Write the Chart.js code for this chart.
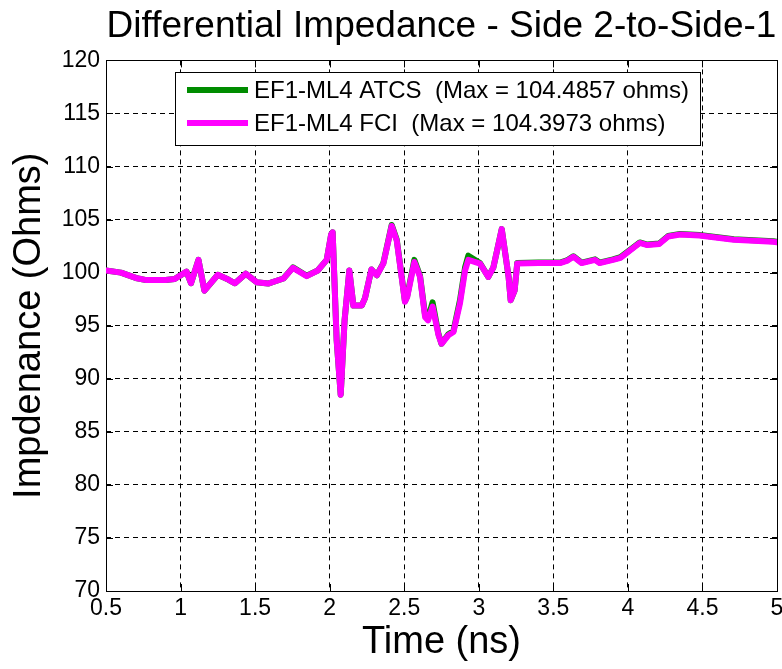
<!DOCTYPE html>
<html lang="en">
<head>
<meta charset="UTF-8">
<title>Differential Impedance - Side 2-to-Side-1</title>
<script src="https://cdn.jsdelivr.net/npm/chart.js"></script>
<style>
  html, body { margin: 0; padding: 0; background: #fff; }
  #wrap { width: 782px; height: 669px; }
</style>
</head>
<body>
<div id="wrap"><canvas id="zChart" width="782" height="669"></canvas></div>
<script>
// time axis (ns) and impedance readings (ohms)
var timeNs = [0.5, 0.6, 0.7, 0.77, 0.9, 0.96, 1.04, 1.07, 1.12, 1.16, 1.25, 1.32, 1.365, 1.437, 1.51, 1.587,
  1.69, 1.754, 1.846, 1.92, 1.98, 2.01, 2.02, 2.047, 2.074, 2.10, 2.132, 2.159, 2.215, 2.237, 2.28, 2.316,
  2.36, 2.416, 2.45, 2.505, 2.52, 2.568, 2.606, 2.64, 2.66, 2.69, 2.73, 2.75, 2.796, 2.83, 2.874, 2.908,
  2.93, 3.008, 3.064, 3.098, 3.154, 3.2, 3.214, 3.24, 3.258, 3.4, 3.545, 3.59, 3.634, 3.69, 3.78, 3.81,
  3.9, 3.95, 4.08, 4.13, 4.21, 4.27, 4.35, 4.48, 4.71, 4.975, 5.0];

var atcs = [100.2, 100.0, 99.5, 99.3, 99.3, 99.4, 100.1, 99.0, 101.2, 98.3, 99.8, 99.35, 99.0, 99.9, 99.1, 98.97,
  99.45, 100.5, 99.7, 100.2, 101.2, 103.6, 103.8, 93.6, 88.5, 95.5, 100.2, 96.9, 96.9, 97.6, 100.3, 99.75,
  100.9, 104.49, 103.1, 97.3, 97.8, 101.2, 99.7, 96.0, 95.7, 97.2, 94.2, 93.3, 94.2, 94.5, 97.4, 100.5,
  101.6, 100.9, 99.6, 100.5, 104.1, 99.6, 97.4, 98.3, 100.9, 100.95, 100.95, 101.15, 101.55, 100.95, 101.25, 100.95,
  101.25, 101.45, 102.85, 102.65, 102.75, 103.45, 103.65, 103.55, 103.15, 102.95, 102.9];

var fci = [100.2, 100.0, 99.5, 99.3, 99.3, 99.4, 100.1, 99.0, 101.2, 98.3, 99.8, 99.35, 99.0, 99.9, 99.1, 98.97,
  99.45, 100.45, 99.67, 100.2, 101.2, 103.6, 103.8, 93.6, 88.5, 95.5, 100.2, 96.9, 96.9, 97.6, 100.3, 99.75,
  100.85, 104.4, 103.0, 97.25, 97.7, 101.0, 99.6, 95.8, 95.5, 96.8, 94.1, 93.3, 94.1, 94.4, 97.1, 100.2,
  101.2, 100.85, 99.6, 100.5, 104.1, 99.6, 97.4, 98.3, 100.85, 100.9, 100.9, 101.1, 101.5, 100.9, 101.2, 100.9,
  101.2, 101.4, 102.8, 102.6, 102.7, 103.4, 103.6, 103.5, 103.1, 102.9, 102.85];

var seriesNames = ['EF1-ML4 ATCS  (Max = 104.4857 ohms)', 'EF1-ML4 FCI  (Max = 104.3973 ohms)'];

var FONT = 'Liberation Sans, Arial, sans-serif';

function pts(vals) {
  return vals.map(function (v, i) { return { x: timeNs[i], y: v }; });
}

// box around the plot + matlab style inward ticks
var frame = {
  id: 'frame',
  beforeDatasetsDraw: function (chart) {
    var a = chart.chartArea, c = chart.ctx;
    var xs = chart.scales.x, ys = chart.scales.y;
    c.save();
    c.strokeStyle = '#000';
    c.lineWidth = 1;
    c.beginPath();
    xs.ticks.forEach(function (t) {
      var px = Math.round(xs.getPixelForValue(t.value)) + 0.5;
      c.moveTo(px, a.bottom); c.lineTo(px, a.bottom - 7);
      c.moveTo(px, a.top); c.lineTo(px, a.top + 7);
    });
    ys.ticks.forEach(function (t) {
      var py = Math.round(ys.getPixelForValue(t.value)) + 0.5;
      c.moveTo(a.left, py); c.lineTo(a.left + 7, py);
      c.moveTo(a.right, py); c.lineTo(a.right - 7, py);
    });
    c.stroke();
    c.strokeRect(Math.round(a.left) + 0.5, Math.round(a.top) + 0.5,
      Math.round(a.right - a.left), Math.round(a.bottom - a.top));
    c.restore();
  }
};

// legend drawn inside the axes, like matlab 'north'
var boxLegend = {
  id: 'boxLegend',
  afterDraw: function (chart) {
    var c = chart.ctx;
    var sets = chart.data.datasets.slice().reverse();
    var x0 = 175, y0 = 72, w = 525, h = 73;
    c.save();
    c.fillStyle = '#fff';
    c.fillRect(x0, y0, w, h);
    c.strokeStyle = '#000';
    c.lineWidth = 1;
    c.strokeRect(x0 + 0.5, y0 + 0.5, w, h);
    c.font = '24px ' + FONT;
    c.textBaseline = 'middle';
    c.fillStyle = '#000';
    sets.forEach(function (ds, i) {
      var y = y0 + 18 + i * 33;
      c.strokeStyle = ds.borderColor;
      c.lineWidth = 6;
      c.beginPath();
      c.moveTo(187, y); c.lineTo(248, y);
      c.stroke();
      c.fillText(ds.label, 254, y + 1);
    });
    c.restore();
  }
};

var ctx = document.getElementById('zChart').getContext('2d');
var zChart = new Chart(ctx, {
  type: 'line',
  data: {
    datasets: [{
      label: seriesNames[1],
      data: pts(fci),
      borderColor: '#ff00ff',
      borderWidth: 6,
      borderJoinStyle: 'round',
      borderCapStyle: 'round',
      pointRadius: 0,
      tension: 0
    }, {
      label: seriesNames[0],
      data: pts(atcs),
      borderColor: '#008c00',
      borderWidth: 6,
      borderJoinStyle: 'round',
      borderCapStyle: 'round',
      pointRadius: 0,
      tension: 0
    }]
  },
  options: {
    responsive: false,
    animation: false,
    layout: { padding: { top: 0, right: 5, left: 0, bottom: 0 } },
    plugins: {
      legend: { display: false },
      tooltip: { enabled: false },
      title: {
        display: true,
        text: 'Differential Impedance - Side 2-to-Side-1',
        fullSize: false,
        color: '#000',
        font: { family: FONT, size: 37, weight: 'normal' },
        padding: { top: 5, bottom: 11 }
      }
    },
    scales: {
      x: {
        type: 'linear',
        min: 0.5,
        max: 5,
        ticks: { stepSize: 0.5, autoSkip: false, maxRotation: 0, color: '#000', padding: 4,
          font: { family: FONT, size: 23 },
          callback: function (v) { return String(v); } },
        grid: { color: '#000', drawTicks: false },
        border: { display: false, dash: [5, 4] },
        title: { display: true, text: 'Time (ns)', color: '#000',
          font: { family: FONT, size: 38 }, padding: { top: 0, bottom: 4 } },
        afterFit: function (s) { s.height = 78; s.paddingLeft = 0; s.paddingRight = 0; }
      },
      y: {
        min: 70,
        max: 120,
        ticks: { stepSize: 5, autoSkip: false, color: '#000', padding: 6,
          font: { family: FONT, size: 23 } },
        grid: { color: '#000', drawTicks: false },
        border: { display: false, dash: [5, 4] },
        title: { display: true, text: 'Impdenance (Ohms)', color: '#000',
          font: { family: FONT, size: 38 }, padding: { top: 7, bottom: 0 } },
        afterFit: function (s) { s.width = 106; s.paddingTop = 0; s.paddingBottom = 0; }
      }
    }
  },
  plugins: [frame, boxLegend]
});
</script>
</body>
</html>
